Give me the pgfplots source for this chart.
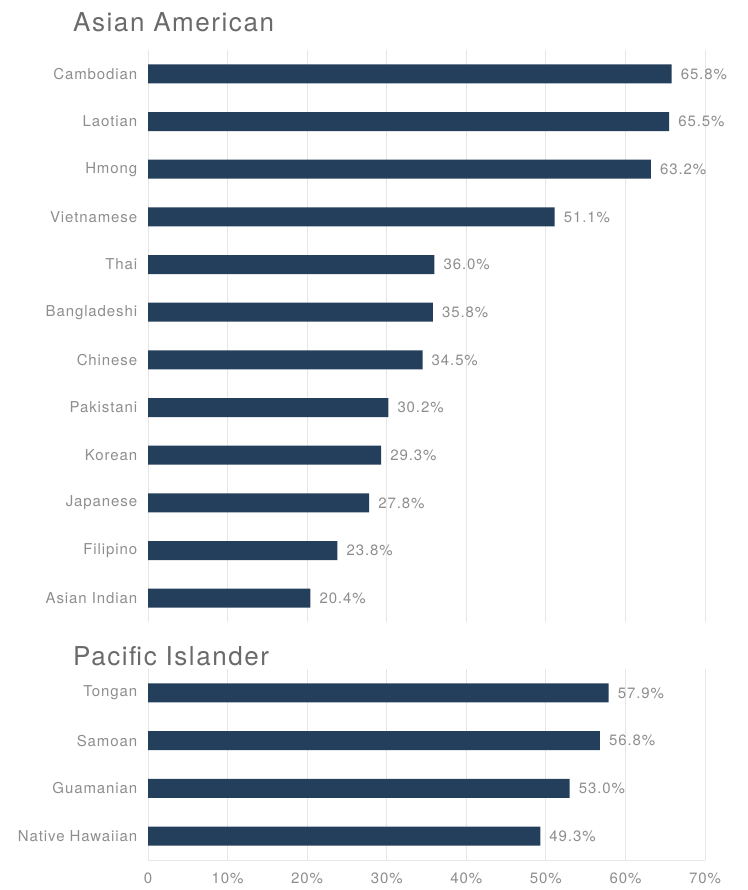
\documentclass[border=0pt]{standalone}
\usepackage{pgfplots}
\pgfplotsset{compat=1.18}
\usepackage{fontspec}
\setmainfont[LetterSpace=6]{TeX Gyre Heros}
\definecolor{barc}{HTML}{243F5B}
\definecolor{txt}{HTML}{8E8E8E}
\definecolor{ttl}{HTML}{6A6A6A}
\definecolor{grd}{HTML}{E6E6E6}
\begin{document}
\begin{tikzpicture}
\useasboundingbox (0pt,0pt) rectangle (747pt,-890pt);
\pgfplotsset{
  mystyle/.style={
    xbar, scale only axis, width=557pt,
    xmin=0, xmax=70, bar width=19pt,
    xtick={0,10,...,70},
    xmajorgrids, grid style={grd, line width=0.8pt},
    axis x line*=bottom, axis y line*=left,
    x axis line style={grd, line width=0.8pt},
    y axis line style={grd, line width=0.8pt},
    ytick style={draw=none}, xtick style={draw=none},
    ytick=data, y dir=reverse,
    tick label style={font=\fontsize{15}{17}\selectfont, text=txt},
    yticklabel style={xshift=-3pt},
    /pgf/number format/assume math mode=true,
    nodes near coords={\pgfmathprintnumber[fixed,precision=1,fixed zerofill]{\pgfplotspointmeta}\%},
    nodes near coords style={font=\fontsize{15}{17}\selectfont, text=txt, inner sep=0pt, anchor=west, xshift=9pt},
    clip=false,
  }
}
\begin{axis}[mystyle, at={(148pt,-622pt)}, anchor=south west, height=572pt,
  ymin=-0.5, ymax=11.5,
  xticklabels={},
  x axis line style={draw=none},
  yticklabels={Cambodian,Laotian,Hmong,Vietnamese,Thai,Bangladeshi,Chinese,Pakistani,Korean,Japanese,Filipino,Asian Indian}]
\addplot[fill=barc, draw=none] coordinates {
(65.8,0) (65.5,1) (63.2,2) (51.1,3) (36.0,4) (35.8,5) (34.5,6) (30.2,7) (29.3,8) (27.8,9) (23.8,10) (20.4,11)};
\end{axis}
\node[anchor=base west, font=\fontsize{26}{30}\selectfont, text=ttl, inner sep=0pt] at (73pt,-32pt) {Asian American};
\begin{axis}[mystyle, at={(148pt,-860pt)}, anchor=south west, height=191pt,
  ymin=-0.5, ymax=3.5,
  xticklabels={0,10\%,20\%,30\%,40\%,50\%,60\%,70\%},
  xticklabel style={yshift=-9pt},
  yticklabels={Tongan,Samoan,Guamanian,Native Hawaiian}]
\addplot[fill=barc, draw=none] coordinates {
(57.9,0) (56.8,1) (53.0,2) (49.3,3)};
\end{axis}
\node[anchor=base west, font=\fontsize{26}{30}\selectfont, text=ttl, inner sep=0pt] at (73pt,-665pt) {Pacific Islander};
\end{tikzpicture}
\end{document}
